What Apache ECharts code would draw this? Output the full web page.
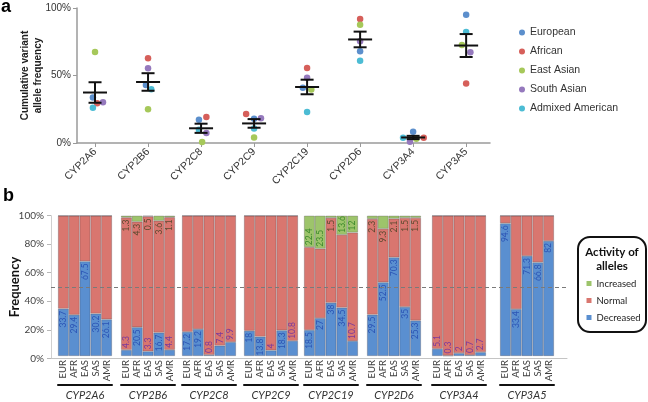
<!DOCTYPE html>
<html>
<head>
<meta charset="utf-8">
<script src="https://cdn.jsdelivr.net/npm/echarts@6/dist/echarts.min.js"></script>
<style>
  html, body { margin: 0; padding: 0; background: #fff; }
  #chart { width: 648px; height: 402px; }
</style>
</head>
<body>
<div id="chart"></div>
<script>
// ---- panel a: cumulative variant allele frequency ----
const genes = ['CYP2A6', 'CYP2B6', 'CYP2C8', 'CYP2C9', 'CYP2C19', 'CYP2D6', 'CYP3A4', 'CYP3A5'];
const populations = ['European', 'African', 'East Asian', 'South Asian', 'Admixed American'];
const popColors = ['#5c8fcc', '#d65f5a', '#a6c85a', '#9579bd', '#4cbcd4'];

const european = [33.7, 43.0, 17.2, 18.0, 41.0, 67.9, 8.4, 95.0];
const african = [29.4, 62.7, 19.2, 21.5, 55.5, 91.9, 3.9, 44.0];
const eastAsian = [67.5, 25.0, 0.8, 4.0, 39.7, 87.6, 3.2, 72.6];
const southAsian = [30.2, 55.3, 7.4, 18.3, 48.3, 75.3, 1.0, 67.2];
const admixedAmerican = [26.1, 39.8, 9.9, 10.8, 23.0, 61.0, 3.9, 82.2];
const freqByPop = [european, african, eastAsian, southAsian, admixedAmerican];

const meanFreq = [37.4, 45.2, 10.9, 14.5, 41.5, 76.7, 4.1, 72.2];
const semFreq = [7.6, 6.5, 3.4, 3.2, 5.4, 5.8, 1.2, 8.5];

// small horizontal spread of the dots (category units), per population
const jitter = [
    [-0.04, -0.04, -0.04, 0, -0.08, 0, 0, 0],
    [0.04, 0, 0.1, -0.15, 0, 0, 0.2, 0],
    [0, 0, 0.02, 0, 0.08, 0, 0.06, -0.08],
    [0.15, 0, 0.1, 0.13, 0, 0, -0.06, 0.08],
    [-0.04, 0.06, -0.04, 0, 0, 0, -0.19, 0]
];

// ---- panel b: activity of alleles ----
const popCodes = ['EUR', 'AFR', 'EAS', 'SAS', 'AMR'];
const decreased = [
    [33.7, 29.4, 67.5, 30.2, 26.1],
    [4.3, 20.5, 3.3, 16.7, 4.4],
    [17.2, 19.2, 0.8, 7.4, 9.9],
    [18, 13.8, 4, 18.3, 10.8],
    [18.5, 27, 38, 34.5, 10.7],
    [29.5, 52.5, 70.3, 35, 25.3],
    [5.1, 0.3, 2, 0.7, 2.7],
    [94.6, 33.4, 71.3, 66.8, 82]
];
const normal = [
    [66.3, 70.6, 32.5, 69.8, 73.9],
    [94.4, 75.2, 96.2, 79.7, 94.5],
    [82.8, 80.8, 99.2, 92.6, 90.1],
    [82, 86.2, 96, 81.7, 89.2],
    [59.1, 49.5, 60.5, 51.9, 77.3],
    [68.2, 38.2, 27.6, 63.5, 73.2],
    [94.9, 99.7, 98, 99.3, 97.3],
    [5.4, 66.6, 28.7, 33.2, 18]
];
const increased = [
    [0, 0, 0, 0, 0],
    [1.3, 4.3, 0.5, 3.6, 1.1],
    [0, 0, 0, 0, 0],
    [0, 0, 0, 0, 0],
    [22.4, 23.5, 1.5, 13.6, 12],
    [2.3, 9.3, 2.1, 1.5, 1.5],
    [0, 0, 0, 0, 0],
    [0, 0, 0, 0, 0]
];
const activityNames = ['Increased', 'Normal', 'Decreased'];

// layout of the gene groups in panel b
const groupLeft = [58, 121, 182, 244, 304, 367, 432, 500];
const groupWidth = 54;
const bTop = 215.7, bHeight = 142.6;

const colBlue = '#5a8fd0', colRed = '#d9766f', colGreen = '#9dc46b';
const fontA = 'Liberation Sans';
const fontB = 'Lato';

// genes sit at positions 1..8 on the top value axis
const genePos = genes.map((g, i) => i + 1);

const chart = echarts.init(document.getElementById('chart'));

const grid = [
    { left: 77, top: 8, width: 413, height: 135 },
    { left: 50, top: bTop, width: 517, height: bHeight }
];
const xAxis = [
    {
        gridIndex: 0, type: 'value', min: 0.66, max: 8.45,
        axisLine: { show: true, onZero: false, lineStyle: { color: '#9a9a9a', width: 1.5 } },
        axisTick: { show: true, customValues: genePos, length: 4, lineStyle: { color: '#9a9a9a' } },
        axisLabel: {
            customValues: genePos, rotate: 45, margin: 7,
            formatter: v => genes[Math.round(v) - 1], fontSize: 10.5, color: '#333', fontFamily: fontA
        },
        splitLine: { show: false }
    },
    {
        gridIndex: 1, type: 'value', min: 0, max: 1,
        axisLine: { show: true, onZero: false, lineStyle: { color: '#c4c4c4', width: 1 } },
        axisTick: { show: false }, axisLabel: { show: false }, splitLine: { show: false }
    }
];
const yAxis = [
    {
        gridIndex: 0, type: 'value', min: 0, max: 100, interval: 50,
        axisLine: { show: true, onZero: false, lineStyle: { color: '#9a9a9a', width: 1.5 } },
        axisTick: { show: true, length: 4, lineStyle: { color: '#9a9a9a' } },
        axisLabel: { formatter: '{value}%', fontSize: 10, color: '#333', fontFamily: fontA, margin: 6 },
        splitLine: { show: false },
        name: 'Cumulative variant\nallele frequency', nameLocation: 'middle', nameGap: 32, nameMoveOverlap: false,
        nameTextStyle: { fontSize: 10, fontWeight: 'bold', color: '#222', fontFamily: fontA, lineHeight: 13 }
    },
    {
        gridIndex: 1, type: 'value', min: 0, max: 100, interval: 20,
        axisLine: { show: true, onZero: false, lineStyle: { color: '#d0d0d0' } },
        axisTick: { show: true, length: 4, lineStyle: { color: '#b8b8b8' } },
        axisLabel: { formatter: '{value}%', fontSize: 10, color: '#444', fontFamily: fontB, margin: 7 },
        splitLine: { show: false },
        name: 'Frequency', nameLocation: 'middle', nameGap: 30, nameMoveOverlap: false,
        nameTextStyle: { fontSize: 13, fontWeight: 'bold', color: '#111', fontFamily: fontB }
    }
];

const series = [];

// dots
populations.forEach((p, pi) => {
    series.push({
        name: p, type: 'scatter', xAxisIndex: 0, yAxisIndex: 0,
        symbolSize: 6.5, itemStyle: { color: popColors[pi], opacity: 1 },
        data: genes.map((g, i) => [genePos[i] + jitter[pi][i], freqByPop[pi][i]]),
        z: 3
    });
});

// mean +/- SEM
series.push({
    type: 'custom', xAxisIndex: 0, yAxisIndex: 0, z: 5,
    data: genes.map((g, i) => [genePos[i], meanFreq[i], semFreq[i]]),
    renderItem: (params, api) => {
        const c = api.coord([api.value(0), api.value(1)]);
        const lo = api.coord([api.value(0), api.value(1) - api.value(2)]);
        const hi = api.coord([api.value(0), api.value(1) + api.value(2)]);
        const x = c[0];
        const st = { stroke: '#111', lineWidth: 2 };
        return {
            type: 'group', children: [
                { type: 'line', shape: { x1: x, y1: lo[1], x2: x, y2: hi[1] }, style: st },
                { type: 'line', shape: { x1: x - 6.5, y1: lo[1], x2: x + 6.5, y2: lo[1] }, style: st },
                { type: 'line', shape: { x1: x - 6.5, y1: hi[1], x2: x + 6.5, y2: hi[1] }, style: st },
                { type: 'line', shape: { x1: x - 12, y1: c[1], x2: x + 12, y2: c[1] }, style: st }
            ]
        };
    }
});

// dashed 50% reference line across panel b
series.push({
    type: 'line', xAxisIndex: 1, yAxisIndex: 1, data: [], z: 10,
    markLine: {
        silent: true, symbol: 'none', label: { show: false },
        lineStyle: { type: [4, 3], color: '#7a7a7a', width: 1 },
        data: [{ yAxis: 50 }]
    }
});

const lblBase = { show: true, rotate: 90, verticalAlign: 'middle', fontSize: 8.5, fontFamily: fontB };
const blueIn = Object.assign({}, lblBase, { position: 'insideTop', align: 'right', distance: 2, color: '#2c55b5' });
const blueOut = Object.assign({}, lblBase, { position: 'top', align: 'left', distance: 2, color: '#7b3a9c' });
const greenIn = Object.assign({}, lblBase, { position: 'insideBottom', align: 'left', distance: 2, color: '#3d8a2c' });
const greenOut = Object.assign({}, lblBase, { position: 'bottom', align: 'right', distance: 2, color: '#5e4a30' });

const barBorder = { borderColor: 'rgba(70,60,70,0.4)', borderWidth: 0.7 };

genes.forEach((g, k) => {
    const gi = 2 + k;
    grid.push({ left: groupLeft[k], top: bTop, width: groupWidth, height: bHeight });
    xAxis.push({
        gridIndex: gi, type: 'category', data: popCodes,
        axisLine: { show: false }, axisTick: { show: false },
        axisLabel: { interval: 0, rotate: 90, margin: 4, fontSize: 9.5, color: '#404040', fontFamily: fontB }
    });
    xAxis.push({
        gridIndex: gi, type: 'category', data: popCodes, position: 'bottom', offset: 29,
        axisLine: { show: true, lineStyle: { color: '#111', width: 2 } },
        axisTick: { show: false }, axisLabel: { show: false },
        name: g, nameLocation: 'middle', nameGap: 5,
        nameTextStyle: { fontStyle: 'italic', fontSize: 11, color: '#333', fontFamily: fontB }
    });
    yAxis.push({ gridIndex: gi, type: 'value', min: 0, max: 100, show: false });
    const xi = 2 + 2 * k, yi = 2 + k;
    series.push({
        name: 'Decreased', type: 'bar', stack: 'g' + k, xAxisIndex: xi, yAxisIndex: yi,
        barCategoryGap: '0%', itemStyle: Object.assign({ color: colBlue }, barBorder),
        data: decreased[k].map(v => ({ value: v, label: v >= 12 ? blueIn : blueOut }))
    });
    series.push({
        name: 'Normal', type: 'bar', stack: 'g' + k, xAxisIndex: xi, yAxisIndex: yi,
        barCategoryGap: '0%', itemStyle: Object.assign({ color: colRed }, barBorder),
        data: normal[k]
    });
    series.push({
        name: 'Increased', type: 'bar', stack: 'g' + k, xAxisIndex: xi, yAxisIndex: yi,
        barCategoryGap: '0%', itemStyle: Object.assign({ color: colGreen }, barBorder),
        data: increased[k].map(v => ({ value: v, label: v === 0 ? { show: false } : (v >= 12 ? greenIn : greenOut) }))
    });
});

const option = {
    animation: false,
    grid: grid,
    xAxis: xAxis,
    yAxis: yAxis,
    legend: [
        {
            data: populations, orient: 'vertical', left: 519, top: 26, padding: 0,
            icon: 'circle', itemWidth: 6, itemHeight: 6, itemGap: 6, itemTextGap: 5,
            textStyle: { fontSize: 10.5, color: '#333', fontFamily: fontA, lineHeight: 13 }
        },
        {
            data: activityNames, orient: 'vertical', left: 586.5, top: 277.5, padding: 0,
            icon: 'rect', itemWidth: 5, itemHeight: 5, itemGap: 5, itemTextGap: 3, z: 10,
            itemStyle: { borderWidth: 0 },
            textStyle: { fontSize: 9.5, color: '#222', fontFamily: fontB, lineHeight: 12 }
        }
    ],
    graphic: [
        {
            type: 'rect', z: 1,
            shape: { x: 578, y: 237, width: 68, height: 95, r: 12 },
            style: { fill: '#fff', stroke: '#111', lineWidth: 2 }
        },
        {
            type: 'text', x: 612, y: 245, z: 2,
            style: { text: 'Activity of\nalleles', align: 'center', fontSize: 11.5, fontWeight: 'bold', lineHeight: 14, fill: '#111', fontFamily: fontB }
        },
        {
            type: 'text', x: 1, y: 7.5,
            style: { text: 'a', fontSize: 18, fontWeight: 'bold', fill: '#000', verticalAlign: 'middle', fontFamily: fontA }
        },
        {
            type: 'text', x: 3, y: 196.5,
            style: { text: 'b', fontSize: 18, fontWeight: 'bold', fill: '#000', verticalAlign: 'middle', fontFamily: fontA }
        }
    ],
    series: series
};

chart.setOption(option);
</script>
</body>
</html>
